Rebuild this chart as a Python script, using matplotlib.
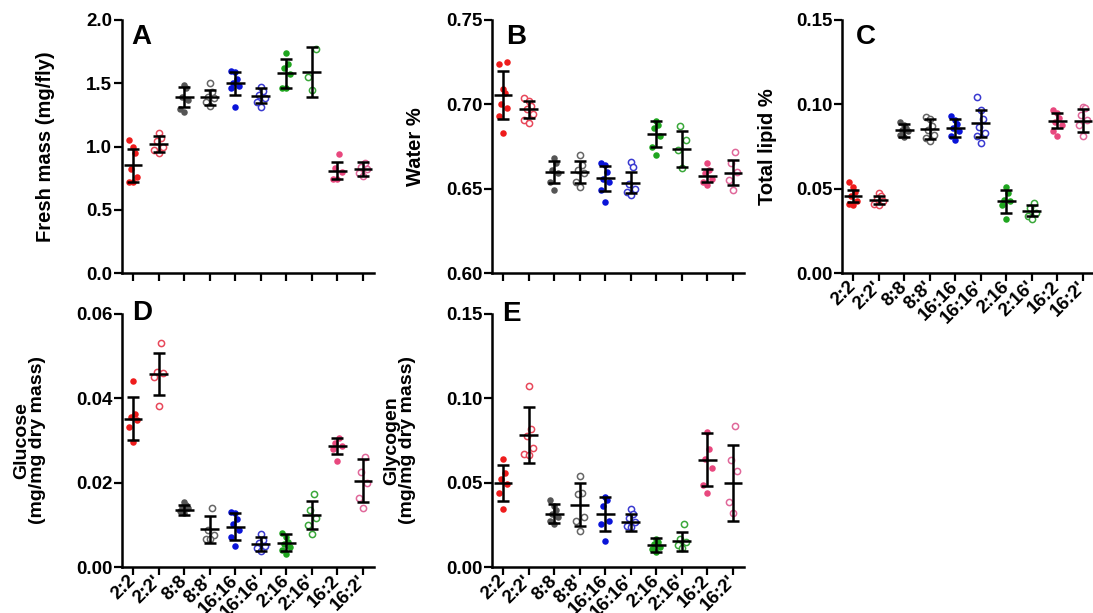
import numpy as np
import matplotlib
matplotlib.use("Agg")
import matplotlib.pyplot as plt

plt.rcParams['font.family'] = ['Liberation Sans', 'DejaVu Sans']
plt.rcParams['font.weight'] = 'bold'

groups = ["2:2", "2:2'", "8:8", "8:8'", "16:16", "16:16'", "2:16", "2:16'", "16:2", "16:2'"]
fill_colors = ["#ee1c1c", "#e8485a", "#555555", "#666666", "#0a14d8", "#3a3ad0",
               "#1fa51f", "#3aa83a", "#e8487e", "#e0689a"]
is_open = [False, True, False, True, False, True, False, True, False, True]

# A - fresh mass (mg/fly)
mass_pts = [
    [1.05, 1.00, 0.95, 0.82, 0.76, 0.72, 0.72],
    [1.11, 1.07, 1.04, 1.00, 0.97, 0.95],
    [1.49, 1.46, 1.39, 1.37, 1.30, 1.27],
    [1.50, 1.43, 1.39, 1.38, 1.35, 1.32],
    [1.60, 1.59, 1.53, 1.50, 1.48, 1.46, 1.31],
    [1.47, 1.44, 1.41, 1.38, 1.35, 1.31],
    [1.74, 1.65, 1.62, 1.57, 1.46, 1.46],
    [1.77, 1.55, 1.45],
    [0.94, 0.83, 0.80, 0.74, 0.74],
    [0.87, 0.84, 0.82, 0.79, 0.77],
]
mass_mean = [0.85, 1.02, 1.39, 1.39, 1.50, 1.40, 1.58, 1.59, 0.81, 0.82]
mass_sd = [0.13, 0.062, 0.08, 0.058, 0.09, 0.06, 0.115, 0.20, 0.067, 0.055]

# B - water %
water_pts = [
    [0.725, 0.724, 0.709, 0.707, 0.700, 0.698, 0.693, 0.683],
    [0.704, 0.702, 0.699, 0.697, 0.694, 0.691, 0.689],
    [0.668, 0.665, 0.661, 0.659, 0.654, 0.649],
    [0.670, 0.664, 0.661, 0.659, 0.654, 0.651],
    [0.665, 0.664, 0.660, 0.656, 0.654, 0.649, 0.642],
    [0.666, 0.663, 0.653, 0.650, 0.648, 0.646],
    [0.690, 0.688, 0.686, 0.681, 0.675, 0.670],
    [0.687, 0.679, 0.673, 0.662],
    [0.665, 0.661, 0.659, 0.656, 0.654, 0.652],
    [0.672, 0.665, 0.660, 0.655, 0.649],
]
water_mean = [0.7056, 0.697, 0.6598, 0.6598, 0.6562, 0.6536, 0.6824, 0.6735, 0.6577, 0.6595]
water_sd = [0.0144, 0.005, 0.0066, 0.0067, 0.0073, 0.0064, 0.0077, 0.0107, 0.004, 0.0072]

# C - total lipid %
lipid_pts = [
    [0.0537, 0.051, 0.0478, 0.0454, 0.0428, 0.041, 0.0405],
    [0.0474, 0.0454, 0.0438, 0.0424, 0.041, 0.0405],
    [0.0898, 0.0878, 0.0859, 0.0849, 0.0839, 0.0819, 0.0809],
    [0.0924, 0.0912, 0.0872, 0.0845, 0.0819, 0.080, 0.078],
    [0.0928, 0.0908, 0.0884, 0.0859, 0.0839, 0.0813, 0.079],
    [0.1046, 0.0967, 0.0912, 0.0865, 0.0829, 0.0813, 0.077],
    [0.0507, 0.0474, 0.0434, 0.0424, 0.0405, 0.032],
    [0.0415, 0.0385, 0.0355, 0.0336, 0.032],
    [0.0967, 0.0947, 0.0918, 0.0898, 0.0878, 0.0839, 0.0813],
    [0.0987, 0.0977, 0.0938, 0.0908, 0.0878, 0.081],
]
lipid_mean = [0.0458, 0.0432, 0.0845, 0.0853, 0.0859, 0.0888, 0.0424, 0.0369, 0.0904, 0.0904]
lipid_sd = [0.0035, 0.0022, 0.0039, 0.0059, 0.0054, 0.0081, 0.007, 0.0034, 0.0042, 0.0067]

# D - glucose (mg/mg dry mass)
glucose_pts = [
    [0.0441, 0.0364, 0.0356, 0.0348, 0.0332, 0.0297],
    [0.0532, 0.0463, 0.0459, 0.0451, 0.0382],
    [0.0153, 0.0148, 0.0142, 0.0139, 0.0132, 0.0127],
    [0.0140, 0.0087, 0.0077, 0.0067, 0.0066],
    [0.0131, 0.0127, 0.0113, 0.0101, 0.0087, 0.0071, 0.0050],
    [0.0078, 0.0065, 0.0058, 0.0050, 0.0044, 0.0038],
    [0.0080, 0.0070, 0.0060, 0.0055, 0.0048, 0.0040, 0.0032],
    [0.0172, 0.0135, 0.0116, 0.0099, 0.0079],
    [0.0305, 0.0295, 0.0288, 0.0279, 0.0251],
    [0.0262, 0.0226, 0.0199, 0.0164, 0.0139],
]
glucose_mean = [0.0352, 0.0457, 0.0135, 0.0089, 0.0095, 0.0055, 0.0058, 0.0124, 0.0287, 0.0205]
glucose_sd = [0.005, 0.005, 0.0011, 0.0033, 0.0032, 0.0017, 0.002, 0.0033, 0.0019, 0.005]

# E - glycogen (mg/mg dry mass)
glycogen_pts = [
    [0.0639, 0.056, 0.0521, 0.0495, 0.0436, 0.0344],
    [0.1075, 0.082, 0.0777, 0.0708, 0.0668, 0.0665],
    [0.0397, 0.0364, 0.0338, 0.0315, 0.0299, 0.0275, 0.0256],
    [0.054, 0.0436, 0.0433, 0.0299, 0.0275, 0.0216],
    [0.0413, 0.0397, 0.0364, 0.0275, 0.0256, 0.0153],
    [0.0344, 0.0315, 0.0291, 0.0265, 0.0246, 0.0236],
    [0.0165, 0.0150, 0.0135, 0.0120, 0.0105, 0.0090],
    [0.0252, 0.0167, 0.0147, 0.0128, 0.0114],
    [0.0802, 0.0702, 0.0643, 0.0588, 0.0488, 0.044],
    [0.0835, 0.0633, 0.0567, 0.0385, 0.032],
]
glycogen_mean = [0.0497, 0.0782, 0.0315, 0.037, 0.0315, 0.0265, 0.0130, 0.0153, 0.0637, 0.050]
glycogen_sd = [0.0105, 0.0167, 0.0057, 0.0128, 0.0102, 0.005, 0.004, 0.0057, 0.0156, 0.0225]


def swarm_offsets(vals, spread):
    # simple deterministic spread: neighbours in value go left/centre/right
    order = np.argsort(vals)
    pattern = [0.0, -1.0, 1.0, -0.5, 0.5]
    offs = np.zeros(len(vals))
    for rank, i in enumerate(order):
        offs[i] = pattern[rank % len(pattern)] * spread
    return offs


def draw_panel(ax, pts, mean, sd, ylim, yticks, fmt, ylabel, letter, letter_xy, label_x, show_xlabels,
               label_size=14.5):
    x = np.arange(len(groups))
    for i, vals in enumerate(pts):
        vals = np.array(vals)
        xs = x[i] + swarm_offsets(vals, 0.16)
        if is_open[i]:
            ax.scatter(xs, vals, s=20, facecolors='white', edgecolors=fill_colors[i],
                       linewidths=1.1, zorder=2, clip_on=False)
        else:
            ax.scatter(xs, vals, s=22, color=fill_colors[i], linewidths=0, zorder=2, clip_on=False)
    ax.errorbar(x, mean, yerr=sd, fmt='none', ecolor='black', elinewidth=1.8,
                capsize=4, capthick=1.8, zorder=3)
    ax.hlines(mean, x - 0.37, x + 0.37, color='black', linewidth=1.8, zorder=3)

    ax.set_xlim(-0.43, 9.43)
    ax.set_ylim(*ylim)
    ax.set_yticks(yticks)
    ax.set_yticklabels([fmt.format(t) for t in yticks])
    ax.set_xticks(x)
    if show_xlabels:
        ax.set_xticklabels(groups, rotation=45, ha='right', va='center',
                           rotation_mode='anchor', fontsize=9.5)
    else:
        ax.set_xticklabels([])
    for s in ['top', 'right']:
        ax.spines[s].set_visible(False)
    for s in ['left', 'bottom']:
        ax.spines[s].set_linewidth(1.8)
    ax.tick_params(width=1.6, length=6, labelsize=13.5, pad=1)
    ax.tick_params(axis='x', pad=2)
    ax.set_ylabel(ylabel, fontsize=label_size, fontweight='bold', linespacing=0.95)
    ax.yaxis.set_label_coords(label_x, 0.5)
    ax.text(letter_xy[0], letter_xy[1], letter, transform=ax.transAxes,
            fontsize=20, fontweight='bold', va='top', ha='left')


fig = plt.figure(figsize=(10.93, 6.13), dpi=100)
W, H = 1093, 613
aw, ah = 252 / W, 253 / H

axA = fig.add_axes([122 / W, (613 - 273) / H, aw, ah])
axB = fig.add_axes([492 / W, (613 - 273) / H, aw, ah])
axC = fig.add_axes([842 / W, (613 - 273) / H, aw, ah])
axD = fig.add_axes([122 / W, (613 - 567) / H, aw, ah])
axE = fig.add_axes([492 / W, (613 - 567) / H, aw, ah])

draw_panel(axA, mass_pts, mass_mean, mass_sd, (0, 2.0), [0, 0.5, 1.0, 1.5, 2.0], "{:.1f}",
           "Fresh mass (mg/fly)", "A", (0.035, 0.985), -0.265, False)
draw_panel(axB, water_pts, water_mean, water_sd, (0.60, 0.75), [0.60, 0.65, 0.70, 0.75], "{:.2f}",
           "Water %", "B", (0.055, 0.985), -0.265, False)
draw_panel(axC, lipid_pts, lipid_mean, lipid_sd, (0, 0.15), [0, 0.05, 0.10, 0.15], "{:.2f}",
           "Total lipid %", "C", (0.055, 0.985), -0.258, True)
draw_panel(axD, glucose_pts, glucose_mean, glucose_sd, (0, 0.06), [0, 0.02, 0.04, 0.06], "{:.2f}",
           "Glucose\n(mg/mg dry mass)", "D", (0.04, 1.055), -0.30, True, label_size=14)
draw_panel(axE, glycogen_pts, glycogen_mean, glycogen_sd, (0, 0.15), [0, 0.05, 0.10, 0.15], "{:.2f}",
           "Glycogen\n(mg/mg dry mass)", "E", (0.04, 1.05), -0.30, True, label_size=14)

fig.savefig("out.png", dpi=100, facecolor='white')
